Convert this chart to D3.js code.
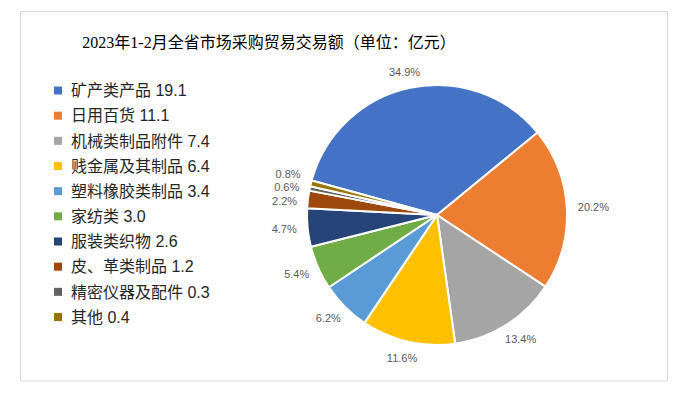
<!DOCTYPE html>
<html>
<head>
<meta charset="utf-8">
<script src="https://cdn.jsdelivr.net/npm/d3@7"></script>
<style>
  html, body { margin: 0; padding: 0; background: #fff; }
  svg text { font-family: "Liberation Sans", Arial, "Noto Sans CJK SC", sans-serif; }
</style>
</head>
<body>
<svg id="chart" width="684" height="394"></svg>
<script>
const categories = ['矿产类产品', '日用百货', '机械类制品附件', '贱金属及其制品', '塑料橡胶类制品',
  '家纺类', '服装类织物', '皮、革类制品', '精密仪器及配件', '其他'];
const values = [19.1, 11.1, 7.4, 6.4, 3.4, 3.0, 2.6, 1.2, 0.3, 0.4];
const pctLabels = ['34.9%', '20.2%', '13.4%', '11.6%', '6.2%', '5.4%', '4.7%', '2.2%', '0.6%', '0.8%'];
const colors = ['#4472C4', '#ED7D31', '#A5A5A5', '#FFC000', '#5B9BD5',
  '#70AD47', '#264478', '#9E480E', '#636363', '#997300'];
const title = '2023年1-2月全省市场采购贸易交易额（单位：亿元）';

const svg = d3.select('#chart');
const cx = 437, cy = 215, r = 130;

// frame
svg.append('rect')
  .attr('x', 20.5).attr('y', 11.5)
  .attr('width', 647).attr('height', 369.5)
  .attr('fill', '#fff')
  .attr('stroke', '#d9d9d9').attr('stroke-width', 1);

svg.append('text')
  .attr('x', 269).attr('y', 48)
  .attr('text-anchor', 'middle')
  .style('font-family', '"Liberation Serif", "Noto Sans CJK SC", serif')
  .style('font-size', '16px')
  .attr('fill', '#000')
  .text(title);

// legend
const legendRow = d3.scaleLinear().domain([0, 9]).range([90.5, 317]);
const legend = svg.append('g');
categories.forEach((c, i) => {
  const y = legendRow(i);
  legend.append('rect')
    .attr('x', 54).attr('y', y - 4)
    .attr('width', 8).attr('height', 8)
    .attr('fill', colors[i]);
  legend.append('text')
    .attr('x', 71).attr('y', y)
    .attr('dy', '0.36em')
    .style('font-size', '16px')
    .attr('fill', '#262626')
    .text(`${c} ${values[i].toFixed(1)}`);
});

// pie
const start = -74.6 * Math.PI / 180;
const pie = d3.pie().sort(null).value(d => d)
  .startAngle(start).endAngle(start + 2 * Math.PI);
const arcs = pie(values);
const arc = d3.arc().innerRadius(0).outerRadius(r);

const g = svg.append('g').attr('transform', `translate(${cx},${cy})`);
g.selectAll('path')
  .data(arcs)
  .enter()
  .append('path')
  .attr('d', arc)
  .attr('fill', (d, i) => colors[i])
  .attr('stroke', '#fff')
  .attr('stroke-width', 2)
  .attr('stroke-linejoin', 'round');

// data labels
const R = r + 11;
const labels = arcs.map((d, i) => {
  const a = (d.startAngle + d.endAngle) / 2;
  const t = g.append('text')
    .attr('text-anchor', 'middle')
    .attr('dy', '0.35em')
    .style('font-size', '11px')
    .attr('fill', '#595959')
    .text(pctLabels[i]);
  const w = t.node().getComputedTextLength();
  const h = 11;
  return {
    t: t,
    x: (R + w / 2) * Math.sin(a),
    y: -(R + h / 2) * Math.cos(a)
  };
});

// spread labels on the left that collide
const left = labels.filter(l => l.x < 0).sort((a, b) => a.y - b.y);
for (let k = 0; k < 50; k++) {
  for (let j = 1; j < left.length; j++) {
    const gap = left[j].y - left[j - 1].y;
    if (gap < 13.5) {
      const push = (13.5 - gap) / 2;
      left[j].y += push;
      left[j - 1].y -= push;
    }
  }
}

labels.forEach(l => l.t.attr('x', l.x).attr('y', l.y));
</script>
</body>
</html>
